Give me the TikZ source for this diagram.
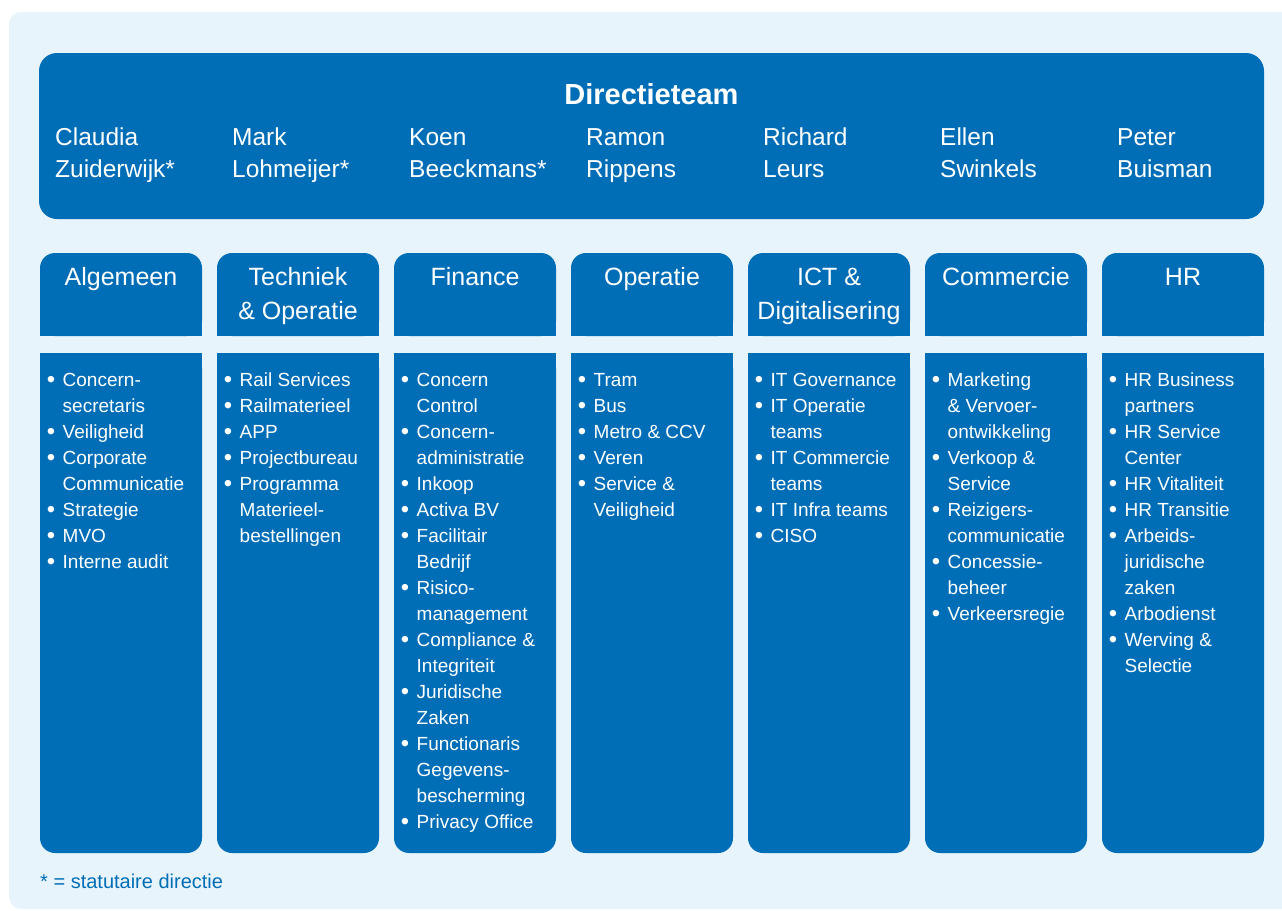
\documentclass[tikz,border=0pt]{standalone}
\usepackage{graphicx}
\usepackage{fontspec}
\setmainfont{Liberation Sans}
\definecolor{nsblue}{RGB}{0,110,183}
\definecolor{panelbg}{RGB}{232,244,252}
\newcommand\bul{\llap{\raisebox{-1.8pt}{\scalebox{1.25}{•}}\hspace{7.6pt}}}
\newcommand\lststack[1]{\begin{tabular}[t]{@{}l@{}}#1\end{tabular}}
\newcommand\hdrstack[1]{\begin{tabular}[t]{@{}c@{}}#1\end{tabular}}
\tikzset{
  boxn/.style={fill=nsblue, rounded corners=15pt, inner sep=0pt, outer sep=0pt, anchor=north west, minimum width=162pt},
  hdrbox/.style={boxn, minimum height=83pt},
  bodybox/.style={boxn, minimum height=500pt},
  hdrtxt/.style={anchor=base, inner sep=0pt, text=white, font=\fontsize{25}{34}\selectfont},
  lsttxt/.style={anchor=base west, inner sep=0pt, text=white, font=\fontsize{19}{26}\selectfont},
  nametxt/.style={anchor=base west, inner sep=0pt, text=white, font=\fontsize{24.5}{32}\selectfont},
}
\begin{document}
\begin{tikzpicture}[x=1pt,y=-1pt]
\useasboundingbox (0,0) rectangle (1282,910);
\clip (0,0) rectangle (1282,910);
% panel
\fill[panelbg, rounded corners=12pt] (9,12) rectangle (1300,909);
% directieteam box
\node[fill=nsblue, rounded corners=18pt, inner sep=0pt, outer sep=0pt, anchor=north west,
      minimum width=1225pt, minimum height=166pt] (dir) at (39,53) {};
\node[anchor=base, inner sep=0pt, text=white, font=\bfseries\fontsize{29}{34}\selectfont] (title) at (651.5,104) {Directieteam};
% names
\node[nametxt] (n1) at (55+0*177,145) {\lststack{Claudia\\ Zuiderwijk*}};
\node[nametxt] (n2) at (55+1*177,145) {\lststack{Mark\\ Lohmeijer*}};
\node[nametxt] (n3) at (55+2*177,145) {\lststack{Koen\\ Beeckmans*}};
\node[nametxt] (n4) at (55+3*177,145) {\lststack{Ramon\\ Rippens}};
\node[nametxt] (n5) at (55+4*177,145) {\lststack{Richard\\ Leurs}};
\node[nametxt] (n6) at (55+5*177,145) {\lststack{Ellen\\ Swinkels}};
\node[nametxt] (n7) at (55+6*177,145) {\lststack{Peter\\ Buisman}};
% column boxes
\foreach \i in {1,...,7}{
  \node[hdrbox] (h\i) at ({40+(\i-1)*177},253) {};
  \fill[nsblue] (h\i.west) rectangle (h\i.south east);
  \node[bodybox] (b\i) at ({40+(\i-1)*177},353) {};
  \fill[nsblue] (b\i.north west) rectangle (b\i.east);
}
% headers
\node[hdrtxt] (t1) at (40+0*177+81,285.7) {\hdrstack{Algemeen}};
\node[hdrtxt] (t2) at (40+1*177+81,285.7) {\hdrstack{Techniek\\ \& Operatie}};
\node[hdrtxt] (t3) at (40+2*177+81,285.7) {\hdrstack{Finance}};
\node[hdrtxt] (t4) at (40+3*177+81,285.7) {\hdrstack{Operatie}};
\node[hdrtxt] (t5) at (40+4*177+81,285.7) {\hdrstack{ICT \&\\ Digitalisering}};
\node[hdrtxt] (t6) at (40+5*177+81,285.7) {\hdrstack{Commercie}};
\node[hdrtxt] (t7) at (40+6*177+81,285.7) {\hdrstack{HR}};
% lists
\node[lsttxt] (l1) at (40+0*177+22.5,386) {\lststack{\bul Concern-\\ secretaris\\ \bul Veiligheid\\ \bul Corporate\\ Communicatie\\ \bul Strategie\\ \bul MVO\\ \bul Interne audit}};
\node[lsttxt] (l2) at (40+1*177+22.5,386) {\lststack{\bul Rail Services\\ \bul Railmaterieel\\ \bul APP\\ \bul Projectbureau\\ \bul Programma\\ Materieel-\\ bestellingen}};
\node[lsttxt] (l3) at (40+2*177+22.5,386) {\lststack{\bul Concern\\ Control\\ \bul Concern-\\ administratie\\ \bul Inkoop\\ \bul Activa BV\\ \bul Facilitair\\ Bedrijf\\ \bul Risico-\\ management\\ \bul Compliance \&\\ Integriteit\\ \bul Juridische\\ Zaken\\ \bul Functionaris\\ Gegevens-\\ bescherming\\ \bul Privacy Office}};
\node[lsttxt] (l4) at (40+3*177+22.5,386) {\lststack{\bul Tram\\ \bul Bus\\ \bul Metro \& CCV\\ \bul Veren\\ \bul Service \&\\ Veiligheid}};
\node[lsttxt] (l5) at (40+4*177+22.5,386) {\lststack{\bul IT Governance\\ \bul IT Operatie\\ teams\\ \bul IT Commercie\\ teams\\ \bul IT Infra teams\\ \bul CISO}};
\node[lsttxt] (l6) at (40+5*177+22.5,386) {\lststack{\bul Marketing\\ \& Vervoer-\\ ontwikkeling\\ \bul Verkoop \&\\ Service\\ \bul Reizigers-\\ communicatie\\ \bul Concessie-\\ beheer\\ \bul Verkeersregie}};
\node[lsttxt] (l7) at (40+6*177+22.5,386) {\lststack{\bul HR Business\\ partners\\ \bul HR Service\\ Center\\ \bul HR Vitaliteit\\ \bul HR Transitie\\ \bul Arbeids-\\ juridische\\ zaken\\ \bul Arbodienst\\ \bul Werving \&\\ Selectie}};
% footnote
\node[anchor=base west, inner sep=0pt, text=nsblue, font=\fontsize{20}{22}\selectfont] (fn) at (40,888) {* = statutaire directie};
\end{tikzpicture}
\end{document}
